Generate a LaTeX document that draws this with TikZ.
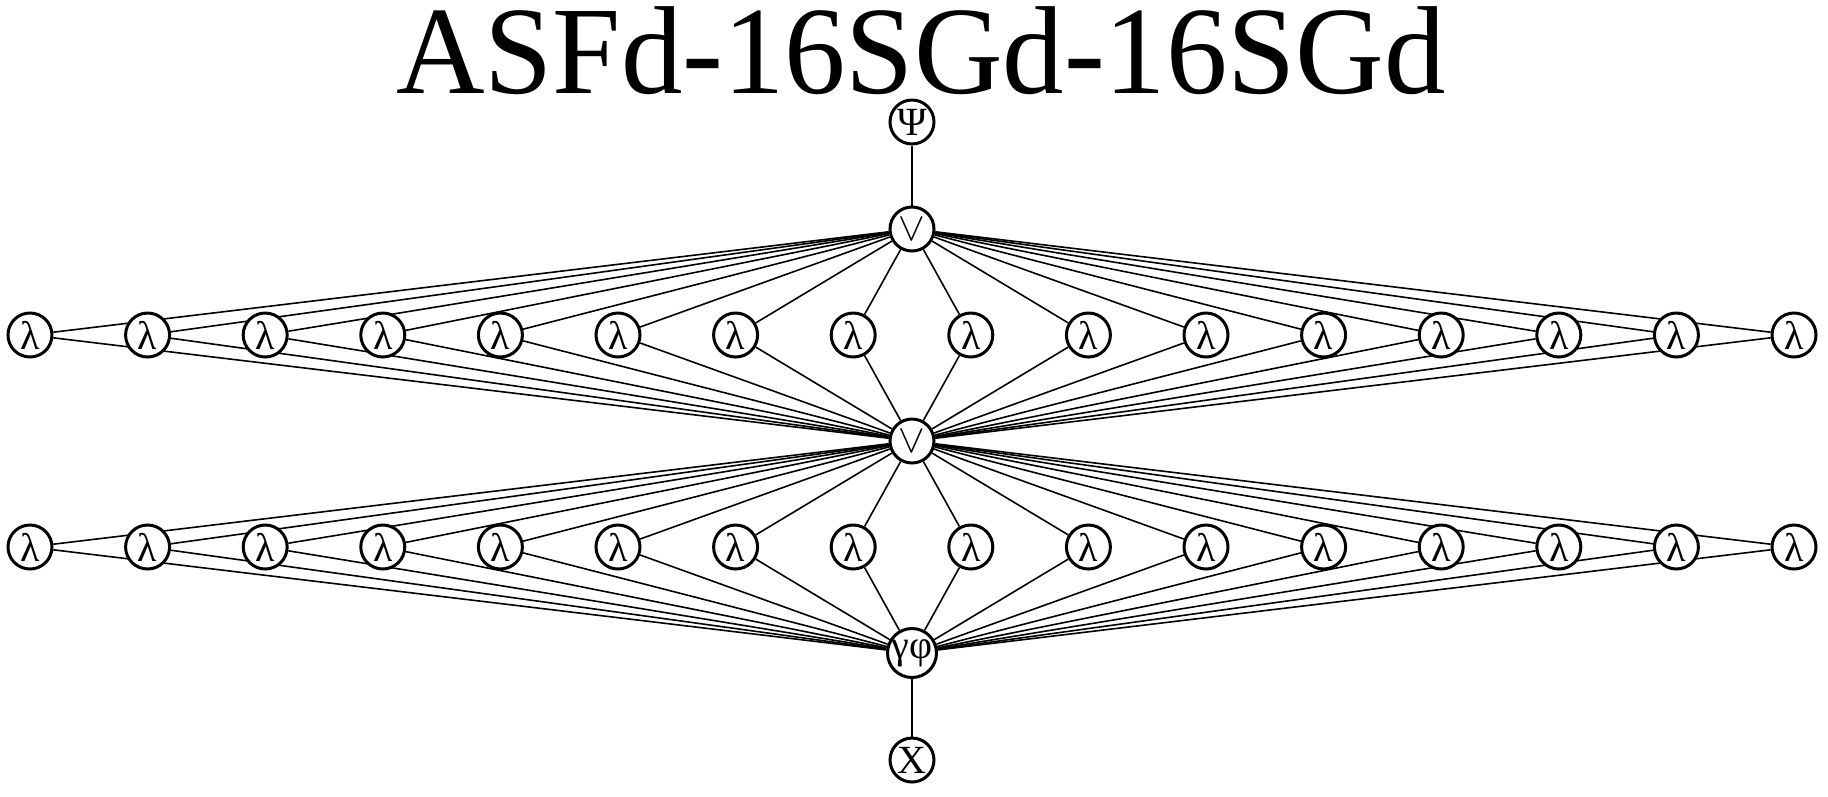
\documentclass[tikz,border=0pt]{standalone}
\usepackage{fontspec}
\setmainfont{Liberation Serif}
\usetikzlibrary{backgrounds}

\begin{document}
\begin{tikzpicture}[x = 1pt, y = 1pt, line width = 0.75pt,
                        gate/.style = {circle, draw, fill = white, minimum size = 11pt, inner sep = 0pt,
                                       font = \fontsize{10}{10}\selectfont},
                        title/.style = {anchor = base, inner sep = 0pt, font = \fontsize{31.3}{31.3}\selectfont}]
      \useasboundingbox (-228, -88.75) rectangle (229, 110.25);
      \node [title, xscale = 0.98] (name) at (2.25, 87) {ASFd-16SGd-16SGd};
      \node [gate] (psi) at (0, 79.75) {Ψ};
      \node [gate] (or1) at (0, 53) {$\vee$};
      \node [gate] (or2) at (0, 0) {$\vee$};
      \node [gate] (gp) at (0, -53) {γφ};
      \node [gate] (chi) at (0, -79.75) {X};
      % lambda rows
      \foreach \i in {0, ..., 15} {
        \node [gate] (la\i) at ({(\i - 7.5) * 29.4}, 26.5) {λ};
        \node [gate] (lb\i) at ({(\i - 7.5) * 29.4}, -26.5) {λ};
      }
      \begin{scope}[on background layer]
        \draw (psi) -- (or1);
        \draw (gp) -- (chi);
        \foreach \i in {0, ..., 15} {
          \draw (or1) -- (la\i) -- (or2);
          \draw (or2) -- (lb\i) -- (gp);
        }
      \end{scope}
    \end{tikzpicture}
\end{document}
